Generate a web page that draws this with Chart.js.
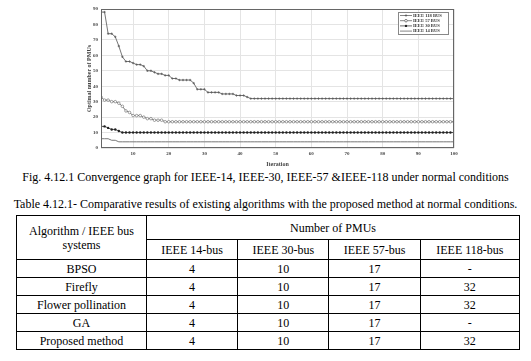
<!DOCTYPE html>
<html>
<head>
<meta charset="utf-8">
<script src="https://cdn.jsdelivr.net/npm/chart.js@4.4.1/dist/chart.umd.min.js"></script>
</head>
<body style="margin:0;background:#fff">
<div id="wrap" style="position:relative;width:531px;height:361px;overflow:hidden;font-family:'Liberation Serif';color:#000">
  <canvas id="chart" width="449" height="168" style="position:absolute;left:82px;top:0"></canvas>
  <div style="position:absolute;left:0;top:170px;width:531px;text-align:center;font-family:'Liberation Serif';font-size:12px;white-space:nowrap">Fig. 4.12.1 Convergence graph for IEEE-14, IEEE-30, IEEE-57 &amp;IEEE-118 under normal conditions</div>
  <div style="position:absolute;left:0;top:197px;width:531px;text-align:center;font-family:'Liberation Serif';font-size:12px;white-space:nowrap">Table 4.12.1- Comparative results of existing algorithms with the proposed method at normal conditions.</div>
  <table id="tbl" style="position:absolute;left:16px;top:215px;width:504px;border-collapse:collapse;font-family:'Liberation Serif';font-size:12px"></table>
</div>
<script>
// x positions (iterations) and axis ticks
const iterations = Array.from({ length: 100 }, (_, i) => i + 1);
const xTicks = [10, 20, 30, 40, 50, 60, 70, 80, 90, 100];
const yTicks = [0, 10, 20, 30, 40, 50, 60, 70, 80, 90];

// best PMU count per iteration
const bus118 = [
  88, 88, 74, 74, 72, 66, 59, 56, 56, 55,
  54, 54, 53, 50, 50, 49, 48, 48, 47, 47,
  45, 45, 44, 44, 44, 44, 42, 38, 38, 38,
  36, 36, 36, 36, 35, 35, 35, 35, 34, 34,
  34, 33, 32, 32, 32, 32, 32, 32, 32, 32,
  32, 32, 32, 32, 32, 32, 32, 32, 32, 32,
  32, 32, 32, 32, 32, 32, 32, 32, 32, 32,
  32, 32, 32, 32, 32, 32, 32, 32, 32, 32,
  32, 32, 32, 32, 32, 32, 32, 32, 32, 32,
  32, 32, 32, 32, 32, 32, 32, 32, 32, 32
];
const bus57 = [
  33, 31, 31, 30, 30, 29, 27, 24, 23, 21,
  21, 21, 20, 19, 19, 18, 18, 18, 17, 17,
  17, 17, 17, 17, 17, 17, 17, 17, 17, 17,
  17, 17, 17, 17, 17, 17, 17, 17, 17, 17,
  17, 17, 17, 17, 17, 17, 17, 17, 17, 17,
  17, 17, 17, 17, 17, 17, 17, 17, 17, 17,
  17, 17, 17, 17, 17, 17, 17, 17, 17, 17,
  17, 17, 17, 17, 17, 17, 17, 17, 17, 17,
  17, 17, 17, 17, 17, 17, 17, 17, 17, 17,
  17, 17, 17, 17, 17, 17, 17, 17, 17, 17
];
const bus30 = [
  14, 14, 13, 12, 12, 11, 10, 10, 10, 10,
  10, 10, 10, 10, 10, 10, 10, 10, 10, 10,
  10, 10, 10, 10, 10, 10, 10, 10, 10, 10,
  10, 10, 10, 10, 10, 10, 10, 10, 10, 10,
  10, 10, 10, 10, 10, 10, 10, 10, 10, 10,
  10, 10, 10, 10, 10, 10, 10, 10, 10, 10,
  10, 10, 10, 10, 10, 10, 10, 10, 10, 10,
  10, 10, 10, 10, 10, 10, 10, 10, 10, 10,
  10, 10, 10, 10, 10, 10, 10, 10, 10, 10,
  10, 10, 10, 10, 10, 10, 10, 10, 10, 10
];
const bus14 = [
  6, 6, 6, 5, 5, 4, 4, 4, 4, 4,
  4, 4, 4, 4, 4, 4, 4, 4, 4, 4,
  4, 4, 4, 4, 4, 4, 4, 4, 4, 4,
  4, 4, 4, 4, 4, 4, 4, 4, 4, 4,
  4, 4, 4, 4, 4, 4, 4, 4, 4, 4,
  4, 4, 4, 4, 4, 4, 4, 4, 4, 4,
  4, 4, 4, 4, 4, 4, 4, 4, 4, 4,
  4, 4, 4, 4, 4, 4, 4, 4, 4, 4,
  4, 4, 4, 4, 4, 4, 4, 4, 4, 4,
  4, 4, 4, 4, 4, 4, 4, 4, 4, 4
];

// table data
const algorithms = ["BPSO", "Firefly", "Flower pollination", "GA", "Proposed method"];
const busSystems = ["IEEE 14-bus", "IEEE 30-bus", "IEEE 57-bus", "IEEE 118-bus"];
const pmu14 = [4, 4, 4, 4, 4];
const pmu30 = [10, 10, 10, 10, 10];
const pmu57 = [17, 17, 17, 17, 17];
const pmu118 = ["-", "32", "32", "-", "32"];

const pts = arr => arr.map((v, i) => ({ x: iterations[i], y: v }));
const serif = "'Liberation Serif'";
const axisFont = { family: serif, size: 5, weight: "bold" };

// boxed legend inside the plot + axes frame (MATLAB style)
const frameLegend = {
  id: "frameLegend",
  afterDraw(chart) {
    const { ctx, chartArea: a } = chart;
    ctx.save();
    ctx.strokeStyle = "#666";
    ctx.lineWidth = 1;
    ctx.strokeRect(a.left + 0.5, a.top + 0.5, a.right - a.left - 1, a.bottom - a.top - 1);

    const bx = a.right - 56, by = a.top + 3, bw = 50, bh = 22;
    ctx.fillStyle = "#fff";
    ctx.fillRect(bx, by, bw, bh);
    ctx.strokeStyle = "#888";
    ctx.strokeRect(bx + 0.5, by + 0.5, bw, bh);
    ctx.font = "bold 4.6px " + serif;
    ctx.textBaseline = "middle";
    chart.data.datasets.forEach((ds, k) => {
      const y = by + 3.5 + k * 5.2;
      ctx.strokeStyle = ds.borderColor;
      ctx.lineWidth = 0.8;
      ctx.beginPath();
      ctx.moveTo(bx + 2, y);
      ctx.lineTo(bx + 14, y);
      ctx.stroke();
      if (ds.pointRadius > 0) {
        ctx.fillStyle = ds.pointBackgroundColor;
        ctx.strokeStyle = ds.pointBorderColor;
        Chart.helpers.drawPoint(ctx, {
          pointStyle: ds.pointStyle, radius: ds.pointRadius,
          borderWidth: ds.pointBorderWidth, rotation: 0
        }, bx + 8, y);
      }
      ctx.fillStyle = "#333";
      ctx.fillText(ds.label, bx + 15, y);
    });
    ctx.restore();
  }
};

new Chart(document.getElementById("chart"), {
  type: "line",
  data: {
    datasets: [
      {
        label: "IEEE 118 BUS", data: pts(bus118),
        borderColor: "#666", borderWidth: 0.9,
        pointStyle: "cross", pointRadius: 1.2, pointBorderWidth: 0.7,
        pointBorderColor: "#555", pointBackgroundColor: "#555"
      },
      {
        label: "IEEE 57 BUS", data: pts(bus57),
        borderColor: "#666", borderWidth: 0.9,
        pointStyle: "circle", pointRadius: 1.3, pointBorderWidth: 0.6,
        pointBorderColor: "#666", pointBackgroundColor: "#fff"
      },
      {
        label: "IEEE 30 BUS", data: pts(bus30),
        borderColor: "#444", borderWidth: 0.9,
        pointStyle: "circle", pointRadius: 1.2, pointBorderWidth: 0,
        pointBorderColor: "#222", pointBackgroundColor: "#222"
      },
      {
        label: "IEEE 14 BUS", data: pts(bus14),
        borderColor: "#666", borderWidth: 0.9,
        pointRadius: 0, pointBorderWidth: 0,
        pointBorderColor: "#666", pointBackgroundColor: "#666"
      }
    ]
  },
  options: {
    responsive: false,
    animation: false,
    layout: { padding: { top: 9, right: 77, left: 0, bottom: 0 } },
    plugins: { legend: { display: false }, tooltip: { enabled: false } },
    scales: {
      x: {
        type: "linear", min: 1, max: 100,
        afterBuildTicks: s => { s.ticks = xTicks.map(v => ({ value: v })); },
        afterFit: s => { s.height = 20; },
        grid: { color: "#e4e4e4", drawTicks: false },
        border: { display: false },
        ticks: { font: axisFont, color: "#444", padding: 3, maxRotation: 0 },
        title: { display: true, text: "Iteration", font: { family: serif, size: 6, weight: "bold" }, color: "#444", padding: { top: 1, bottom: 0 } }
      },
      y: {
        min: 0, max: 90,
        afterBuildTicks: s => { s.ticks = yTicks.map(v => ({ value: v })); },
        afterFit: s => { s.width = 19; },
        grid: { color: "#e4e4e4", drawTicks: false },
        border: { display: false },
        ticks: { font: axisFont, color: "#444", padding: 3 },
        title: { display: true, text: "Optimal number of PMUs", font: { family: serif, size: 6, weight: "bold" }, color: "#444", padding: { top: 4, bottom: 2 } }
      }
    }
  },
  plugins: [frameLegend]
});

// comparison table
const cell = "border:1px solid #000;text-align:center;padding:0;line-height:14px;font-family:'Liberation Serif'";
const tbl = document.getElementById("tbl");
let html = `<tr style="height:24px"><td rowspan="2" style="${cell};width:129px">Algorithm / IEEE bus<br>systems</td>` +
  `<td colspan="4" style="${cell}">Number of PMUs</td></tr><tr style="height:20px">` +
  busSystems.map(b => `<td style="${cell}">${b}</td>`).join("") + "</tr>";
algorithms.forEach((a, i) => {
  html += `<tr style="height:18px">` +
    [a, pmu14[i], pmu30[i], pmu57[i], pmu118[i]].map(v => `<td style="${cell}">${v}</td>`).join("") + "</tr>";
});
tbl.innerHTML = html;
</script>
</body>
</html>
